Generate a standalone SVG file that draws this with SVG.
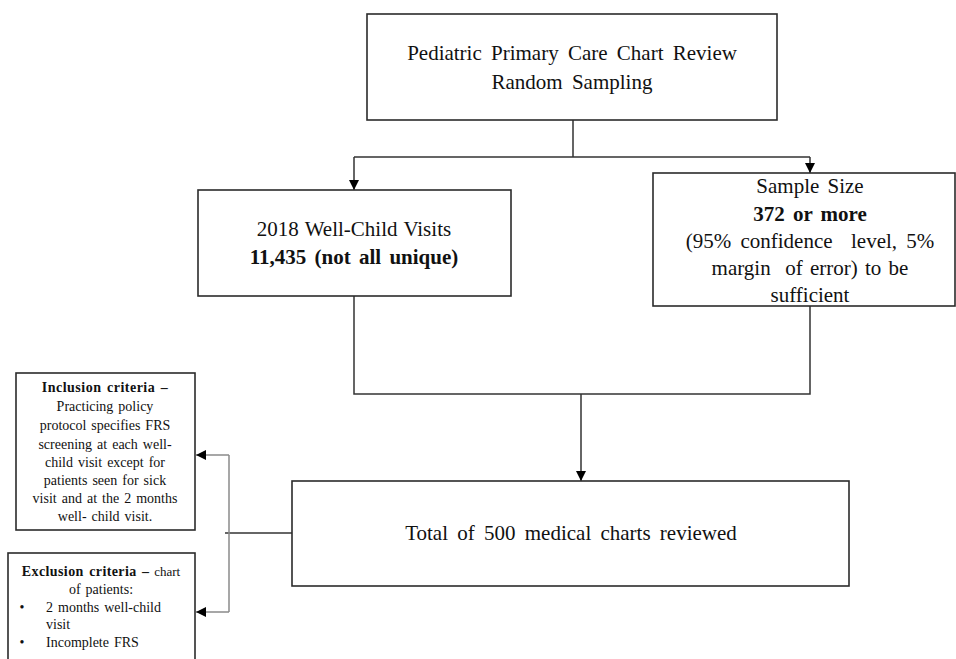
<svg xmlns="http://www.w3.org/2000/svg" width="956" height="659" viewBox="0 0 956 659">
<style>
.box{fill:#fff;stroke:#2b2b2b;stroke-width:1.6}
.m{font-size:21px}
.s{font-size:14px;word-spacing:1.5px}
.b{font-weight:bold}
.c{fill:none;stroke:#333;stroke-width:1.5}
.g{fill:none;stroke:#8a8a8a;stroke-width:1.5}
</style>
<defs>
<marker id="ad" markerWidth="10" markerHeight="10" refX="10" refY="5" orient="auto" markerUnits="userSpaceOnUse">
<path d="M0,0 L10,5 L0,10 Z" fill="#000"/>
</marker>
</defs>
<rect width="956" height="659" fill="#fff"/>
<g id="connectors">
<path class="c" d="M573,120 V157 M354,157 H810"/>
<path class="c" d="M354,157 V190" marker-end="url(#ad)"/>
<path class="c" d="M810,157 V173" marker-end="url(#ad)"/>
<path class="c" d="M354,296 V394 H810 V306"/>
<path class="c" d="M581,394 V481" marker-end="url(#ad)"/>
<path class="c" d="M292,533 H225"/>
<path class="g" d="M229,455 V612"/>
<path class="g" d="M229,455 H196" marker-end="url(#ad)"/>
<path class="g" d="M229,612 H196" marker-end="url(#ad)"/>
</g>
<g font-family="Liberation Serif" fill="#111" text-anchor="middle">
<g id="top">
<rect class="box" x="367" y="14" width="410" height="106"/>
<text class="m" x="572" y="60" word-spacing="4">Pediatric Primary Care Chart Review</text>
<text class="m" x="572" y="89" word-spacing="4">Random Sampling</text>
</g>
<g id="visits">
<rect class="box" x="198" y="190" width="313" height="106"/>
<text class="m" x="354" y="236" word-spacing="1">2018 Well-Child Visits</text>
<text class="m b" x="354" y="264" word-spacing="3">11,435 (not all unique)</text>
</g>
<g id="sample">
<rect class="box" x="653" y="173" width="302" height="133"/>
<text class="m" x="810" y="193" word-spacing="3">Sample Size</text>
<text class="m b" x="810" y="221" word-spacing="3">372 or more</text>
<text class="m" x="810" y="248" xml:space="preserve" word-spacing="4">(95% confidence  level, 5%</text>
<text class="m" x="810" y="275" xml:space="preserve" word-spacing="2">margin  of error) to be</text>
<text class="m" x="810" y="302">sufficient</text>
</g>
<g id="total">
<rect class="box" x="292" y="481" width="557" height="105"/>
<text class="m" x="571" y="540" word-spacing="4">Total of 500 medical charts reviewed</text>
</g>
<g id="inclusion">
<rect class="box" x="16" y="373" width="179" height="157"/>
<text class="s b" x="105" y="392" letter-spacing="0.5">Inclusion criteria –</text>
<text class="s" x="105" y="411">Practicing policy</text>
<text class="s" x="105" y="430">protocol specifies FRS</text>
<text class="s" x="105" y="449">screening at each well-</text>
<text class="s" x="105" y="467">child visit except for</text>
<text class="s" x="105" y="485">patients seen for sick</text>
<text class="s" x="105" y="503">visit and at the 2 months</text>
<text class="s" x="105" y="521">well- child visit.</text>
</g>
<g id="exclusion">
<rect class="box" x="8" y="553" width="187" height="120"/>
<text class="s" x="101" y="576"><tspan font-weight="bold" letter-spacing="0.4">Exclusion criteria –</tspan><tspan font-size="13"> chart</tspan></text>
<text class="s" x="101" y="594">of patients:</text>
<text class="s" x="22" y="612">•</text>
<text class="s" x="46" y="612" text-anchor="start">2 months well-child</text>
<text class="s" x="46" y="629" text-anchor="start">visit</text>
<text class="s" x="22" y="647">•</text>
<text class="s" x="46" y="647" text-anchor="start">Incomplete FRS</text>
</g>
</g>
</svg>
